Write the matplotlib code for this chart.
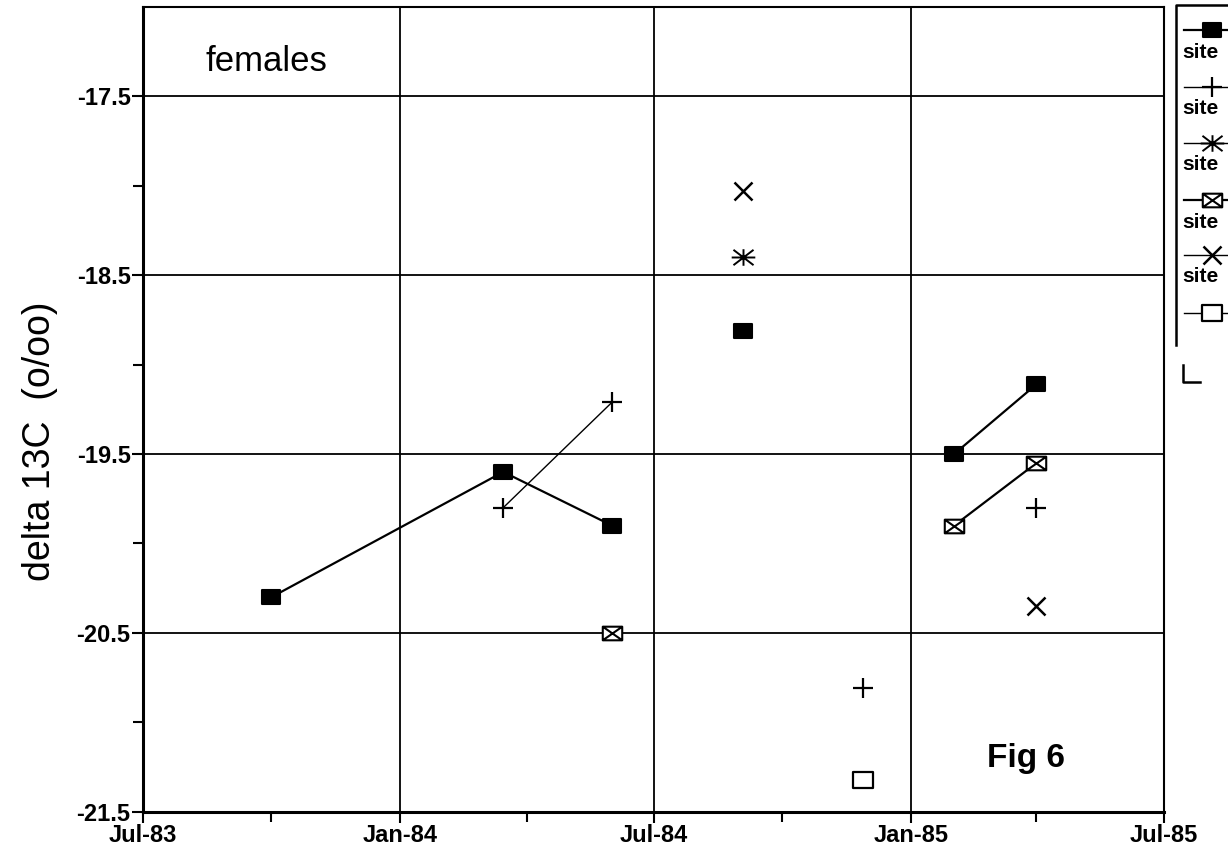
import numpy as np
import pandas as pd
import matplotlib
matplotlib.use("Agg")
import matplotlib.pyplot as plt
from matplotlib.path import Path
from matplotlib.lines import Line2D

plt.rcParams["font.family"] = ["Liberation Sans", "DejaVu Sans"]

# sampling dates (blank row in Jul-84 breaks the lines like in the sheet)
sample_dates = ["1983-10-01", "1984-03-15", "1984-06-01", "1984-07-20",
                "1984-09-03", "1984-11-28", "1985-02-01", "1985-04-01"]

nan = np.nan
site1_d13c = [-20.30, -19.60, -19.90, nan, -18.81, nan, -19.50, -19.11]
site2_d13c = [nan, -19.80, -19.21, nan, nan, -20.81, nan, -19.80]
site3_d13c = [nan, nan, nan, nan, -18.40, nan, nan, nan]
site4_d13c = [nan, nan, -20.50, nan, nan, nan, -19.90, -19.55]
site5_d13c = [nan, nan, nan, nan, -18.03, nan, nan, -20.35]
site6_d13c = [nan, nan, nan, nan, nan, -21.32, nan, nan]

# legend labels are cut off at the page edge in the original
legend_labels = ["site", "site", "site", "site", "site"]

x_tick_dates = ["1983-07-01", "1984-01-01", "1984-07-01", "1985-01-01", "1985-07-01"]
x_tick_labels = ["Jul-83", "Jan-84", "Jul-84", "Jan-85", "Jul-85"]
x_minor_dates = ["1983-10-01", "1984-04-01", "1984-10-01", "1985-04-01"]
y_ticks = [-17.5, -18.5, -19.5, -20.5, -21.5]
y_minor_ticks = [-18.0, -19.0, -20.0, -21.0]

dates = pd.to_datetime(sample_dates)

# custom marker shapes (slightly wider than tall, like the old plot)
rect_marker = Path([(-1, -0.75), (1, -0.75), (1, 0.75), (-1, 0.75), (-1, -0.75)],
                   [Path.MOVETO, Path.LINETO, Path.LINETO, Path.LINETO, Path.CLOSEPOLY])
boxx_marker = Path([(-1, -0.7), (1, -0.7), (1, 0.7), (-1, 0.7), (-1, -0.7),
                    (-1, -0.7), (1, 0.7), (-1, 0.7), (1, -0.7)],
                   [Path.MOVETO, Path.LINETO, Path.LINETO, Path.LINETO, Path.CLOSEPOLY,
                    Path.MOVETO, Path.LINETO, Path.MOVETO, Path.LINETO])
star_marker = Path([(-1, 0), (1, 0), (-0.85, -0.65), (0.85, 0.65), (-0.85, 0.65), (0.85, -0.65),
                    (0, -0.7), (0, 0.7)],
                   [Path.MOVETO, Path.LINETO, Path.MOVETO, Path.LINETO,
                    Path.MOVETO, Path.LINETO, Path.MOVETO, Path.LINETO])

styles = [
    dict(marker=rect_marker, ms=13, mfc="black", mec="black", lw=1.6, mew=1.5),
    dict(marker="+", ms=15, mfc="black", mec="black", lw=1.0, mew=1.6),
    dict(marker=star_marker, ms=17, mfc="none", mec="black", lw=1.0, mew=1.4),
    dict(marker=boxx_marker, ms=14, mfc="white", mec="black", lw=1.6, mew=1.5),
    dict(marker="x", ms=13, mfc="black", mec="black", lw=1.0, mew=1.8),
    dict(marker=rect_marker, ms=15, mfc="white", mec="black", lw=1.0, mew=1.6),
]
all_sites = [site1_d13c, site2_d13c, site3_d13c, site4_d13c, site5_d13c, site6_d13c]

fig = plt.figure(figsize=(12.28, 8.59), dpi=100)
ax = fig.add_axes([0.1165, 0.055, 0.831, 0.937])

for values, st in zip(all_sites, styles):
    ax.plot(dates, values, color="black", linestyle="-", zorder=3, **st)

ax.set_xlim(pd.Timestamp("1983-07-01"), pd.Timestamp("1985-07-01"))
ax.set_ylim(-21.5, -17.0)

ax.set_xticks(pd.to_datetime(x_tick_dates))
ax.set_xticklabels(x_tick_labels, fontsize=17, fontweight="bold")
ax.set_xticks(pd.to_datetime(x_minor_dates), minor=True)
ax.set_yticks(y_ticks)
ax.set_yticklabels([f"{v:.1f}" for v in y_ticks], fontsize=17, fontweight="bold")
ax.set_yticks(y_minor_ticks, minor=True)

ax.tick_params(which="major", direction="out", length=8, width=1.5, color="black", pad=1)
ax.tick_params(which="minor", direction="out", length=7, width=1.5, color="black")
ax.grid(True, which="major", color="black", linewidth=1.3)
ax.set_axisbelow(True)
for side in ["left", "bottom"]:
    ax.spines[side].set_linewidth(2.2)
for side in ["top", "right"]:
    ax.spines[side].set_linewidth(1.5)

ax.set_ylabel("delta 13C  (o/oo)", fontsize=27)
ax.yaxis.set_label_coords(-0.083, 0.46)

ax.text(0.061, 0.953, "females", transform=ax.transAxes, fontsize=25, va="top", ha="left")
ax.text(0.827, 0.066, "Fig 6", transform=ax.transAxes, fontsize=24, fontweight="bold",
        va="center", ha="left")

# legend box, cut off by the right edge of the page
W, H = 1228.0, 859.0


def fx(px):
    return px / W


def fy(py):
    return 1 - py / H


fig.add_artist(Line2D([fx(1176), fx(1176), fx(1240)], [fy(345), fy(5), fy(5)],
                      transform=fig.transFigure, color="black", lw=1.8))
fig.add_artist(Line2D([fx(1183), fx(1183), fx(1200)], [fy(365), fy(382), fy(382)],
                      transform=fig.transFigure, color="black", lw=1.8))

marker_rows = [30, 87, 143, 200, 255, 313]
for i, (row, st) in enumerate(zip(marker_rows, styles)):
    fig.add_artist(Line2D([fx(1184), fx(1212), fx(1240)], [fy(row)] * 3,
                          transform=fig.transFigure, color="black",
                          markevery=[1], **st))
    if i < len(legend_labels):
        fig.text(fx(1182), fy(row + 22), legend_labels[i], fontsize=15, fontweight="bold",
                 va="center", ha="left")

fig.savefig("out.png", dpi=100)
